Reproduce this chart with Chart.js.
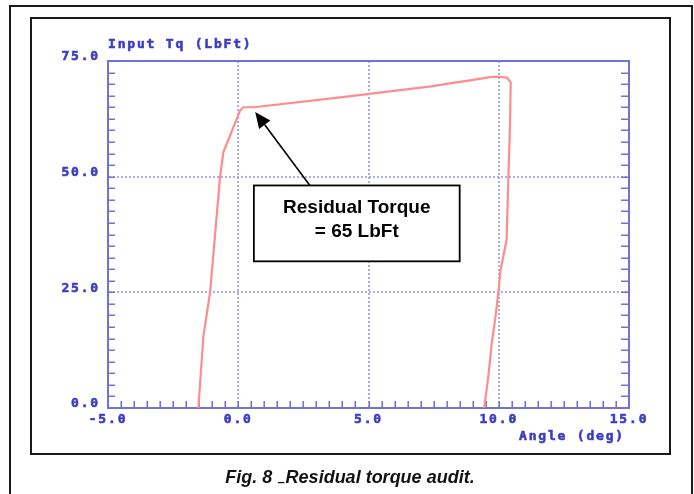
<!DOCTYPE html>
<html>
<head>
<meta charset="utf-8">
<script src="https://cdn.jsdelivr.net/npm/chart.js@4"></script>
<style>
  html, body { margin: 0; padding: 0; background: #fff; }
  #page { position: relative; width: 694px; height: 494px; overflow: hidden; }
  .frame { position: absolute; box-sizing: border-box; border: 2px solid #1a1a1a; }
  #outer { left: 9px; top: 5px; width: 684px; height: 560px; }
  #inner { left: 30px; top: 17px; width: 641px; height: 438px; }
  #chart { position: absolute; left: 0; top: 0; }
  #caption { position: absolute; left: 0; top: 468px; width: 700px; text-align: center;
             font: italic bold 18px/18px "Liberation Sans", Arial, sans-serif; color: #111; }
  #caption .dash { font-style: normal; font-size: 13px; vertical-align: -3px; margin-right: 1px; }
</style>
</head>
<body>
<div id="page">
  <div id="outer" class="frame"></div>
  <div id="inner" class="frame"></div>
  <canvas id="chart" width="694" height="494"></canvas>
  <div id="caption">Fig. 8 <span class="dash">–</span>Residual torque audit.</div>
</div>
<script>
// Torque trace (angle in deg, torque in LbFt)
const angleDeg = [-1.53, -1.34, -1.08, -0.70, -0.57, 0.07, 0.20, 0.60, 4.0, 7.4, 8.05, 8.9,
                  9.66, 10.0, 10.31, 10.46, 10.43, 10.37, 10.30, 10.07, 9.98, 9.86, 9.73, 9.60, 9.44];
const torqueLbFt = [0, 15.4, 25.1, 49.9, 55.3, 64.3, 65.0, 65.0, 67.2, 69.5, 70.1, 70.8,
                    71.5, 71.6, 71.4, 70.4, 60.7, 49.9, 36.3, 29.8, 24.8, 19.0, 14.0, 6.8, 0];

// Axes
const xRange = [-5, 15];
const yRange = [0, 75];
const xMajorStep = 5;
const yMajorStep = 25;
const xMinorStep = 0.5;
const yMinorStep = 2.5;
const xTitle = 'Angle (deg)';
const yTitle = 'Input Tq (LbFt)';

// Callout text
const calloutLines = ['Residual Torque', '= 65 LbFt'];

// Colors
const axisColor = '#7272d4';
const labelColor = '#3d3dc2';
const gridColor = 'rgba(140, 140, 225, 0.7)';
const traceColor = '#ff8c8c';
const monoFont = '"DejaVu Sans Mono", monospace';

// Callout placement, in data units
const callout = {
    tip: [0.65, 64],
    tail: [2.75, 48.1],
    box: [0.6, 48.1, 8.5, 31.7]
};

const points = angleDeg.map((a, i) => ({ x: a, y: torqueLbFt[i] }));

// Draws top/right frame, inward minor ticks, axis titles and the callout
const plotDecor = {
    id: 'plotDecor',
    beforeDraw(chart) {
        chart.ctx.letterSpacing = '1.8px';
    },
    beforeDatasetsDraw(chart) {
        const { ctx, chartArea: a, scales: { x, y } } = chart;
        ctx.save();
        ctx.strokeStyle = axisColor;
        ctx.lineWidth = 2;
        ctx.beginPath();
        ctx.moveTo(a.left, a.top);
        ctx.lineTo(a.right, a.top);
        ctx.lineTo(a.right, a.bottom);
        ctx.stroke();

        ctx.lineWidth = 1.6;
        ctx.beginPath();
        for (let v = x.min + xMinorStep; v < x.max; v += xMinorStep) {
            const px = Math.round(x.getPixelForValue(v)) + 0.25;
            ctx.moveTo(px, a.bottom);
            ctx.lineTo(px, a.bottom - 7);
        }
        for (let v = y.min + yMinorStep; v < y.max; v += yMinorStep) {
            const py = Math.round(y.getPixelForValue(v)) + 0.25;
            ctx.moveTo(a.left, py);
            ctx.lineTo(a.left + 7, py);
            ctx.moveTo(a.right, py);
            ctx.lineTo(a.right - 8, py);
        }
        ctx.stroke();

        ctx.fillStyle = labelColor;
        ctx.strokeStyle = labelColor;
        ctx.lineWidth = 0.6;
        ctx.font = 'bold 13px ' + monoFont;
        ctx.textBaseline = 'middle';
        ctx.textAlign = 'left';
        ctx.fillText(yTitle, a.left, a.top - 16);
        ctx.strokeText(yTitle, a.left, a.top - 16);
        ctx.textAlign = 'right';
        ctx.fillText(xTitle, a.right - 4, a.bottom + 29);
        ctx.strokeText(xTitle, a.right - 4, a.bottom + 29);
        ctx.restore();
    },
    afterDraw(chart) {
        const { ctx, scales: { x, y } } = chart;
        const tipX = x.getPixelForValue(callout.tip[0]);
        const tipY = y.getPixelForValue(callout.tip[1]);
        const tailX = x.getPixelForValue(callout.tail[0]);
        const tailY = y.getPixelForValue(callout.tail[1]);
        const bx1 = x.getPixelForValue(callout.box[0]);
        const by1 = y.getPixelForValue(callout.box[1]);
        const bx2 = x.getPixelForValue(callout.box[2]);
        const by2 = y.getPixelForValue(callout.box[3]);

        ctx.save();
        ctx.letterSpacing = '0px';
        // arrow
        const ang = Math.atan2(tipY - tailY, tipX - tailX);
        const headLen = 16, headHalf = 7;
        const baseX = tipX - headLen * Math.cos(ang);
        const baseY = tipY - headLen * Math.sin(ang);
        ctx.strokeStyle = '#000';
        ctx.fillStyle = '#000';
        ctx.lineWidth = 1.6;
        ctx.beginPath();
        ctx.moveTo(tailX, tailY);
        ctx.lineTo(baseX, baseY);
        ctx.stroke();
        ctx.beginPath();
        ctx.moveTo(tipX, tipY);
        ctx.lineTo(baseX + headHalf * Math.sin(ang), baseY - headHalf * Math.cos(ang));
        ctx.lineTo(baseX - headHalf * Math.sin(ang), baseY + headHalf * Math.cos(ang));
        ctx.closePath();
        ctx.fill();

        // box
        ctx.fillStyle = '#fff';
        ctx.fillRect(bx1, by1, bx2 - bx1, by2 - by1);
        ctx.lineWidth = 1.8;
        ctx.strokeRect(bx1, by1, bx2 - bx1, by2 - by1);

        ctx.fillStyle = '#000';
        ctx.font = 'bold 19px "Liberation Sans", Arial, sans-serif';
        ctx.textAlign = 'center';
        ctx.textBaseline = 'middle';
        const cx = (bx1 + bx2) / 2;
        ctx.fillText(calloutLines[0], cx, by1 + 22);
        ctx.fillText(calloutLines[1], cx, by1 + 46);
        ctx.restore();
    }
};

function gridOnInside(ctx) {
    const v = ctx.tick && ctx.tick.value;
    const s = ctx.scale;
    return (v > s.min && v < s.max) ? gridColor : 'rgba(0,0,0,0)';
}

new Chart(document.getElementById('chart'), {
    type: 'scatter',
    data: {
        datasets: [{
            data: points,
            showLine: true,
            borderColor: traceColor,
            borderWidth: 2.2,
            pointRadius: 0,
            tension: 0
        }]
    },
    options: {
        responsive: false,
        animation: false,
        devicePixelRatio: 1,
        layout: { padding: { top: 61, right: 65, left: 0, bottom: 0 } },
        plugins: { legend: { display: false }, tooltip: { enabled: false } },
        scales: {
            x: {
                type: 'linear',
                min: xRange[0],
                max: xRange[1],
                afterFit(scale) { scale.height = 86; },
                ticks: {
                    stepSize: xMajorStep,
                    padding: 4,
                    color: labelColor,
                    textStrokeColor: labelColor,
                    textStrokeWidth: 0.6,
                    font: { family: monoFont, size: 13, weight: 'bold' },
                    maxRotation: 0,
                    autoSkip: false,
                    callback: v => v.toFixed(1)
                },
                grid: { color: gridOnInside, lineWidth: 2, drawTicks: false },
                border: { display: true, color: axisColor, width: 2, dash: [2, 2] }
            },
            y: {
                type: 'linear',
                min: yRange[0],
                max: yRange[1],
                afterFit(scale) { scale.width = 108; },
                ticks: {
                    stepSize: yMajorStep,
                    padding: 8,
                    labelOffset: -4,
                    color: labelColor,
                    textStrokeColor: labelColor,
                    textStrokeWidth: 0.6,
                    font: { family: monoFont, size: 13, weight: 'bold' },
                    callback: v => v.toFixed(1)
                },
                grid: { color: gridOnInside, lineWidth: 2, drawTicks: false },
                border: { display: true, color: axisColor, width: 2, dash: [2, 2] }
            }
        }
    },
    plugins: [plotDecor]
});
</script>
</body>
</html>
